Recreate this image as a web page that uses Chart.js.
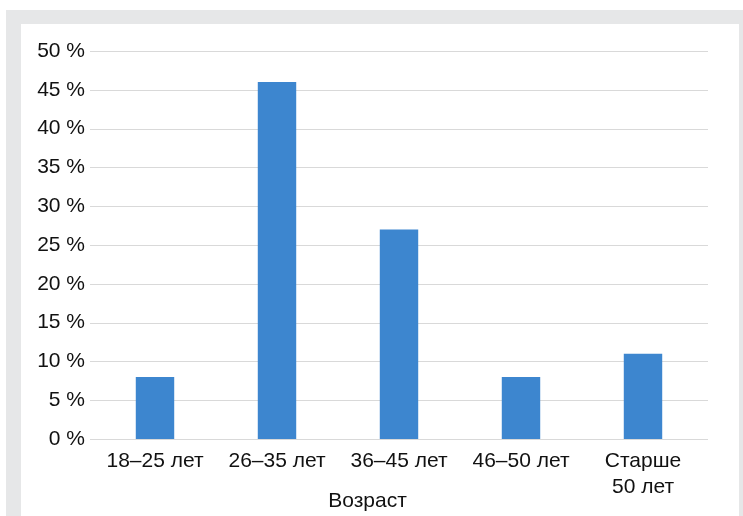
<!DOCTYPE html>
<html lang="ru">
<head>
<meta charset="utf-8">
<title>Возраст</title>
<script src="https://cdn.jsdelivr.net/npm/chart.js@4/dist/chart.umd.min.js"></script>
<style>
  html, body { margin: 0; padding: 0; background: #ffffff; }
  body { width: 743px; height: 516px; position: relative; overflow: hidden; }
  .frame { position: absolute; left: 6px; top: 10px; width: 737px; height: 506px; background: #e6e7e8; }
  .panel { position: absolute; left: 21px; top: 24px; width: 718px; height: 492px; background: #ffffff; }
  #chart { position: absolute; left: 0; top: 0; }
</style>
</head>
<body>
<div class="frame"></div>
<div class="panel"><canvas id="chart" width="693" height="492"></canvas></div>
<script>
// Age groups and share of respondents, %
const categories = ['18–25 лет', '26–35 лет', '36–45 лет', '46–50 лет', ['Старше', '50 лет']];
const shares = [8, 46, 27, 8, 11];
const yTickValues = [0, 5, 10, 15, 20, 25, 30, 35, 40, 45, 50];
const axisTitle = 'Возраст';

const FONT = { family: "'Liberation Sans', Arial, sans-serif", size: 21 };
const TEXT = '#111111';
const GRID = '#d9d9d9';

// Horizontal grid lines drawn slightly wider than the plot area
const gridPlugin = {
  id: 'wideGrid',
  beforeDatasetsDraw(chart) {
    const { ctx, chartArea, scales } = chart;
    const y = scales.y;
    ctx.save();
    ctx.strokeStyle = GRID;
    ctx.lineWidth = 1;
    yTickValues.forEach(v => {
      const py = Math.round(y.getPixelForValue(v)) + 0.5;
      ctx.beginPath();
      ctx.moveTo(chartArea.left - 4, py);
      ctx.lineTo(chartArea.right + 4, py);
      ctx.stroke();
    });
    ctx.restore();
  }
};

// Axis caption centred under the whole canvas
const captionPlugin = {
  id: 'caption',
  afterDraw(chart) {
    const { ctx } = chart;
    ctx.save();
    ctx.fillStyle = TEXT;
    ctx.font = `${FONT.size}px ${FONT.family}`;
    ctx.textAlign = 'center';
    ctx.textBaseline = 'middle';
    ctx.fillText(axisTitle, chart.width / 2, chart.height - 15);
    ctx.restore();
  }
};

new Chart(document.getElementById('chart'), {
  type: 'bar',
  data: {
    labels: categories,
    datasets: [{
      data: shares,
      backgroundColor: '#3d86cf',
      borderWidth: 0,
      barPercentage: 0.315,
      categoryPercentage: 1
    }]
  },
  plugins: [gridPlugin, captionPlugin],
  options: {
    responsive: false,
    animation: false,
    devicePixelRatio: 1,
    layout: { padding: { top: 27, right: 10, left: 0, bottom: 0 } },
    plugins: {
      legend: { display: false },
      tooltip: { enabled: false },
      title: { display: false }
    },
    scales: {
      x: {
        grid: { display: false, drawTicks: false },
        border: { display: false },
        ticks: { color: TEXT, font: FONT, padding: 10, maxRotation: 0, autoSkip: false },
        afterFit(scale) { scale.height = 77; }
      },
      y: {
        min: 0,
        max: 50,
        grid: { display: false, drawTicks: false },
        border: { display: false },
        afterBuildTicks(scale) { scale.ticks = yTickValues.map(v => ({ value: v })); },
        ticks: {
          color: TEXT,
          font: FONT,
          padding: 9,
          callback: v => v + ' %'
        },
        afterFit(scale) { scale.width = 73; }
      }
    }
  }
});
</script>
</body>
</html>
